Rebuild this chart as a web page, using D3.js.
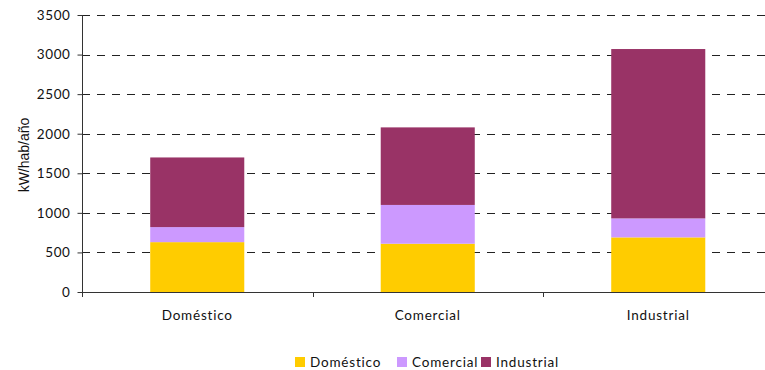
<!DOCTYPE html>
<html>
<head>
<meta charset="utf-8">
<script src="https://cdn.jsdelivr.net/npm/d3@7"></script>
<style>
  html, body { margin: 0; padding: 0; background: #fff; }
  svg { display: block; }
  text { font-family: Lato, "Open Sans", sans-serif; fill: #111; }
</style>
</head>
<body>
<svg id="chart" width="765" height="370"></svg>
<script>
// Consumption per inhabitant (kW/hab/año), stacked by sector
const categories = ["Doméstico", "Comercial", "Industrial"];
const seriesNames = ["Doméstico", "Comercial", "Industrial"];
const domestico  = [630, 610, 690];
const comercial  = [190, 490, 240];
const industrial = [880, 980, 2140];
const yTicks = [0, 500, 1000, 1500, 2000, 2500, 3000, 3500];
const colors = ["#FFCC00", "#CC99FF", "#993366"];
const yTitle = "kW/hab/año";

const svg = d3.select("#chart");
const plotLeft = 82, plotRight = 773.5, plotTop = 15, plotBottom = 292;

const rows = categories.map((c, i) => ({
  cat: c,
  "Doméstico": domestico[i],
  "Comercial": comercial[i],
  "Industrial": industrial[i]
}));
const stacked = d3.stack().keys(seriesNames)(rows);

const x = d3.scaleBand().domain(categories).range([plotLeft, plotRight])
  .paddingInner(0.592).paddingOuter(0.296);
const y = d3.scaleLinear().domain([0, 3500]).range([plotBottom, plotTop]);

// dashed gridlines
svg.append("g").selectAll("line").data(yTicks.filter(d => d > 0)).join("line")
  .attr("x1", plotLeft).attr("x2", plotRight)
  .attr("y1", d => Math.round(y(d)) + 0.5).attr("y2", d => Math.round(y(d)) + 0.5)
  .attr("stroke", "#222").attr("stroke-width", 1)
  .attr("stroke-dasharray", "8,7");

// stacked bars
svg.append("g").selectAll("g").data(stacked).join("g")
  .attr("fill", (d, i) => colors[i])
  .selectAll("rect").data(d => d).join("rect")
  .attr("x", d => x(d.data.cat))
  .attr("width", x.bandwidth())
  .attr("y", d => y(d[1]))
  .attr("height", d => y(d[0]) - y(d[1]));

// y axis
const yAxis = svg.append("g")
  .attr("transform", `translate(${plotLeft + 0.5},0)`)
  .call(d3.axisLeft(y).tickValues(yTicks).tickSize(5).tickPadding(7).tickFormat(d3.format("d")));
yAxis.selectAll("path, line").attr("stroke", "#333");
yAxis.select(".domain").attr("d", `M0,${plotTop}V${plotBottom}`);
yAxis.selectAll("text").style("font-family", "Lato, sans-serif").style("font-size", "13.5px")
  .attr("fill", "#111").style("letter-spacing", "0.6px");

// x axis: baseline with ticks at category boundaries
const xAxis = svg.append("g");
xAxis.append("line").attr("x1", plotLeft).attr("x2", plotRight)
  .attr("y1", plotBottom + 0.5).attr("y2", plotBottom + 0.5).attr("stroke", "#333");
const step = x.step();
xAxis.selectAll("line.tick").data(d3.range(categories.length + 1)).join("line")
  .attr("class", "tick")
  .attr("x1", i => Math.round(plotLeft + i * step) + 0.5)
  .attr("x2", i => Math.round(plotLeft + i * step) + 0.5)
  .attr("y1", plotBottom).attr("y2", plotBottom + 5).attr("stroke", "#333");
xAxis.selectAll("text").data(categories).join("text")
  .attr("x", d => x(d) + x.bandwidth() / 2)
  .attr("y", 320)
  .attr("text-anchor", "middle")
  .style("font-size", "13.5px").style("letter-spacing", "0.8px")
  .text(d => d);

// y axis title
svg.append("text")
  .attr("transform", `translate(29,155) rotate(-90)`)
  .attr("text-anchor", "middle")
  .style("font-family", "'Liberation Sans', Arial, sans-serif")
  .style("font-size", "14px")
  .text(yTitle);

// legend
const legendX = [295, 397, 481];
const legend = svg.append("g").selectAll("g").data(seriesNames).join("g")
  .attr("transform", (d, i) => `translate(${legendX[i]},357)`);
legend.append("rect").attr("width", 10).attr("height", 10)
  .attr("fill", (d, i) => colors[i]);
legend.append("text").attr("x", 15).attr("y", 10)
  .style("font-size", "13.5px").style("letter-spacing", "0.8px")
  .text(d => d);
</script>
</body>
</html>
